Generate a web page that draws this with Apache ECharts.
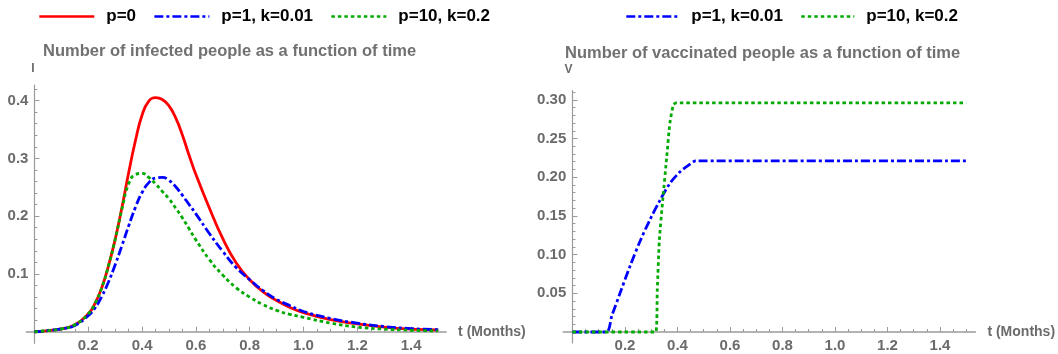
<!DOCTYPE html>
<html>
<head>
<meta charset="utf-8">
<script src="https://cdn.jsdelivr.net/npm/echarts@6/dist/echarts.min.js"></script>
<style>
  html, body { margin: 0; padding: 0; background: #fff; }
  #chart { width: 1058px; height: 354px; }
</style>
</head>
<body>
<div id="chart"></div>
<script>
// Infected fraction I(t), time in months
const tInfected  = [0, 0.05, 0.1, 0.15, 0.2, 0.225, 0.25, 0.275, 0.3, 0.325, 0.35, 0.375, 0.4, 0.425, 0.45, 0.475, 0.5, 0.525, 0.55, 0.575, 0.6, 0.65, 0.7, 0.75, 0.8, 0.85, 0.9, 0.95, 1.0, 1.1, 1.2, 1.3, 1.4, 1.5];
const infectedP0 = [0, 0.002, 0.005, 0.012, 0.031, 0.049, 0.076, 0.114, 0.160, 0.215, 0.275, 0.330, 0.375, 0.399, 0.405, 0.402, 0.391, 0.370, 0.340, 0.305, 0.272, 0.214, 0.161, 0.119, 0.090, 0.069, 0.054, 0.042, 0.033, 0.021, 0.0135, 0.008, 0.0045, 0.003];
const infectedP1 = [0, 0.002, 0.005, 0.011, 0.028, 0.041, 0.061, 0.086, 0.116, 0.149, 0.183, 0.215, 0.241, 0.258, 0.266, 0.267, 0.262, 0.251, 0.236, 0.220, 0.204, 0.170, 0.139, 0.111, 0.090, 0.071, 0.056, 0.045, 0.035, 0.023, 0.0148, 0.009, 0.0055, 0.0035];
const infectedP10 = [0, 0.002, 0.005, 0.012, 0.031, 0.049, 0.076, 0.114, 0.160, 0.212, 0.256, 0.272, 0.274, 0.267, 0.256, 0.243, 0.230, 0.214, 0.197, 0.178, 0.159, 0.125, 0.098, 0.076, 0.060, 0.047, 0.037, 0.030, 0.025, 0.015, 0.008, 0.0045, 0.0025, 0.0015];

// Vaccinated fraction V(t)
const tVaccP1  = [0, 0.128, 0.15, 0.181, 0.219, 0.257, 0.295, 0.333, 0.371, 0.41, 0.448, 0.47, 1.5];
const vaccP1   = [0, 0, 0.021, 0.050, 0.085, 0.117, 0.145, 0.170, 0.192, 0.207, 0.217, 0.221, 0.221];
const tVaccP10 = [0, 0.317, 0.323, 0.331, 0.344, 0.359, 0.371, 0.384, 0.394, 1.5];
const vaccP10  = [0, 0, 0.054, 0.119, 0.171, 0.226, 0.270, 0.293, 0.296, 0.296];

// Labelled ticks
const timeTicks = [0.2, 0.4, 0.6, 0.8, 1.0, 1.2, 1.4];
const infectedTicks = [0.1, 0.2, 0.3, 0.4];
const vaccTicks = [0.05, 0.10, 0.15, 0.20, 0.25, 0.30];

const names = ['p=0', 'p=1, k=0.01', 'p=10, k=0.2'];

// minor tick positions between the labelled ones
function minorTicks(step, upto, major) {
  const out = [];
  for (let i = 1; i * step <= upto + 1e-9; i++) {
    const v = +(i * step).toFixed(4);
    if (!major.some(m => Math.abs(m - v) < 1e-6)) out.push(v);
  }
  return out;
}

const FONT = '"Liberation Sans", Arial, sans-serif';
const GRAY = '#6b6b6b';
const AXIS = '#9a9a9a';

const pairs = (xs, ys) => xs.map((x, i) => [x, ys[i]]);

function majorX(grid, min, max, yIdx) {
  return {
    type: 'value', gridIndex: grid, min: min, max: max,
    name: 't (Months)', nameLocation: 'end', nameGap: 12,
    nameTextStyle: { fontFamily: FONT, fontWeight: 'bold', fontSize: 14, color: GRAY },
    axisLine: { onZero: true, onZeroAxisIndex: yIdx, lineStyle: { color: AXIS, width: 1.6 } },
    axisTick: { show: true, inside: true, length: 5, customValues: timeTicks, lineStyle: { color: AXIS } },
    axisLabel: { customValues: timeTicks, margin: -5, formatter: v => v.toFixed(1),
      fontFamily: FONT, fontWeight: 'bold', fontSize: 15, color: GRAY },
    splitLine: { show: false }
  };
}
function minorX(grid, min, max, yIdx) {
  return {
    type: 'value', gridIndex: grid, min: min, max: max, position: 'bottom',
    axisLine: { show: false, onZero: true, onZeroAxisIndex: yIdx },
    axisTick: { show: true, inside: true, length: 3, customValues: minorTicks(0.05, 1.5, timeTicks), lineStyle: { color: AXIS } },
    axisLabel: { show: false }, splitLine: { show: false }
  };
}
function majorY(grid, min, max, xIdx, label, gap, ticks, digits, labelMargin) {
  return {
    type: 'value', gridIndex: grid, min: min, max: max,
    name: label, nameLocation: 'end', nameGap: gap,
    nameTextStyle: { fontFamily: FONT, fontWeight: 'bold', fontSize: 12, color: GRAY, align: 'right' },
    axisLine: { onZero: true, onZeroAxisIndex: xIdx, lineStyle: { color: AXIS, width: 1.2 } },
    axisTick: { show: true, inside: true, length: 5, customValues: ticks, lineStyle: { color: AXIS } },
    axisLabel: { customValues: ticks, margin: labelMargin, formatter: v => v.toFixed(digits),
      fontFamily: FONT, fontWeight: 'bold', fontSize: 15, color: GRAY },
    splitLine: { show: false }
  };
}
function minorY(grid, min, max, xIdx, step, upto, ticks) {
  return {
    type: 'value', gridIndex: grid, min: min, max: max, position: 'left',
    axisLine: { show: false, onZero: true, onZeroAxisIndex: xIdx },
    axisTick: { show: true, inside: true, length: 3, customValues: minorTicks(step, upto, ticks), lineStyle: { color: AXIS } },
    axisLabel: { show: false }, splitLine: { show: false }
  };
}

const styles = {
  'p=0': { color: '#ff0000', width: 2.8, type: 'solid' },
  'p=1, k=0.01': { color: '#0000ff', width: 2.8, type: [9, 3, 3, 3] },
  'p=10, k=0.2': { color: '#00aa00', width: 2.8, type: [3.5, 3] }
};
function line(name, data, xi, yi, smooth) {
  const s = styles[name];
  return {
    type: 'line', name: name, data: data, xAxisIndex: xi, yAxisIndex: yi,
    showSymbol: false, symbol: 'none', smooth: smooth,
    color: s.color,
    lineStyle: { color: s.color, width: s.width, type: s.type, cap: 'butt' }
  };
}

const legendText = { fontFamily: FONT, fontWeight: 'bold', fontSize: 17, color: '#000', padding: [0, 0, 0, 7] };
const legendCommon = { top: 3, itemHeight: 14, itemGap: 17, textStyle: legendText,
  itemStyle: { opacity: 0 }, lineStyle: { width: 2.6 } };
const titleText = { fontFamily: FONT, fontWeight: 'bold', fontSize: 16.5, color: '#717171' };

const chart = echarts.init(document.getElementById('chart'), null, { renderer: 'canvas' });
chart.setOption({
  animation: false,
  backgroundColor: '#fff',
  title: [
    { text: 'Number of infected people as a function of time', left: 43, top: 43, padding: 0, textStyle: titleText },
    { text: 'Number of vaccinated people as a function of time', left: 565, top: 45, padding: 0, textStyle: titleText }
  ],
  legend: [
    Object.assign({ data: names, left: 33, itemWidth: 55 }, legendCommon),
    Object.assign({ data: names.slice(1), left: 620, itemWidth: 53 }, legendCommon)
  ],
  grid: [
    { left: 26.4, top: 85, width: 419.7, height: 258.3, containLabel: false, outerBoundsMode: 'none' },
    { left: 563.3, top: 90.7, width: 412.1, height: 252.3, containLabel: false, outerBoundsMode: 'none' }
  ],
  xAxis: [
    majorX(0, -0.03, 1.53, 0),
    minorX(0, -0.03, 1.53, 0),
    majorX(1, -0.035, 1.535, 2),
    minorX(1, -0.035, 1.535, 2)
  ],
  yAxis: [
    majorY(0, -0.02, 0.427, 0, 'I', 10, infectedTicks, 1, -2),
    minorY(0, -0.02, 0.427, 0, 0.02, 0.42, infectedTicks),
    majorY(1, -0.0142, 0.3118, 2, 'V', 15, vaccTicks, 2, -3),
    minorY(1, -0.0142, 0.3118, 2, 0.01, 0.31, vaccTicks)
  ],
  series: [
    line('p=0', pairs(tInfected, infectedP0), 0, 0, 0.5),
    line('p=1, k=0.01', pairs(tInfected, infectedP1), 0, 0, 0.5),
    line('p=10, k=0.2', pairs(tInfected, infectedP10), 0, 0, 0.5),
    line('p=1, k=0.01', pairs(tVaccP1, vaccP1), 2, 2, 0.3),
    line('p=10, k=0.2', pairs(tVaccP10, vaccP10), 2, 2, 0.2)
  ]
});
</script>
</body>
</html>
